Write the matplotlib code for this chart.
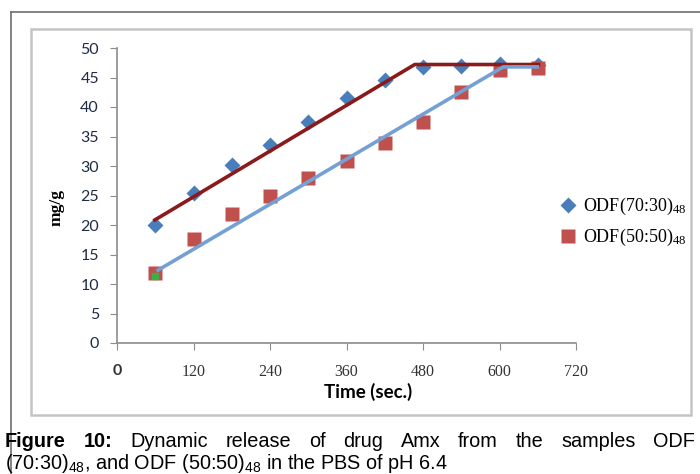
import matplotlib
matplotlib.use('Agg')
import matplotlib.pyplot as plt
from matplotlib.lines import Line2D
from matplotlib.patches import Rectangle

plt.rcParams['mathtext.default'] = 'regular'

# data
time_sec = [60, 120, 180, 240, 300, 360, 420, 480, 540, 600, 660]
odf_70_30 = [20.0, 25.5, 30.2, 33.6, 37.5, 41.5, 44.6, 46.8, 47.0, 47.3, 47.1]
odf_50_50 = [11.9, 17.6, 21.9, 25.0, 28.0, 30.9, 33.9, 37.4, 42.5, 46.3, 46.6]

# hand drawn trend lines
trend_70_30_x = [57, 467, 664]
trend_70_30_y = [20.7, 47.2, 47.2]
trend_50_50_x = [62, 606, 662]
trend_50_50_y = [12.2, 46.8, 46.8]
green_point = (60, 11.4)

x_ticks = [0, 120, 240, 360, 480, 600, 720]
y_ticks = [0, 5, 10, 15, 20, 25, 30, 35, 40, 45, 50]

W, H = 700, 474
fig = plt.figure(figsize=(7, 4.74), dpi=100)


def fx(px):
    return px / W


def fy(py):
    return 1 - py / H


# frames
fig.add_artist(Line2D([fx(11), fx(11)], [fy(12), 0], color='#6e6e6e', lw=1.2))
fig.add_artist(Line2D([fx(11), 1], [fy(12), fy(12)], color='#6e6e6e', lw=1.2))
fig.add_artist(Rectangle((fx(31), fy(415)), fx(691) - fx(31), fy(29) - fy(415),
                         fill=False, edgecolor='#c4c4c4', lw=1.8))

ax = fig.add_axes([fx(117), fy(343), fx(576) - fx(117), fy(48) - fy(343)])
ax.set_xlim(0, 720)
ax.set_ylim(0, 50)

for s in ['top', 'right']:
    ax.spines[s].set_visible(False)
for s in ['left', 'bottom']:
    ax.spines[s].set_color('#8c8c8c')
    ax.spines[s].set_linewidth(1.2)

ax.plot(time_sec, odf_70_30, 'D', color='#4a7ebb', ms=8, mec='none', zorder=2,
        label='ODF(70:30)$_{48}$')
ax.plot(time_sec, odf_50_50, 's', color='#c0504d', ms=10.5, mec='none', zorder=3,
        label='ODF(50:50)$_{48}$')
ax.plot(trend_70_30_x, trend_70_30_y, color='#8b1a1a', lw=2.6, zorder=4,
        solid_capstyle='butt')
ax.plot(trend_50_50_x, trend_50_50_y, color='#74a0d4', lw=2.6, zorder=4,
        solid_capstyle='butt')
ax.plot(*green_point, 's', color='#3cb043', ms=4, zorder=5)

ax.set_xticks(x_ticks)
xl = ax.set_xticklabels([str(v) for v in x_ticks], fontfamily='Liberation Serif',
                        fontsize=11.5, color='#333333')
xl[0].set_fontfamily('Lato')
xl[0].set_fontweight('bold')
ax.set_yticks(y_ticks)
ax.set_yticklabels([str(v) for v in y_ticks], fontfamily='Lato', fontsize=11.5,
                   color='#1f2a44')
ax.tick_params(axis='x', direction='out', length=5, color='#8c8c8c', pad=10)
ax.tick_params(axis='y', direction='out', length=5, color='#8c8c8c', pad=8)

fig.text(fx(57), fy(208), 'mg/g', rotation=90, ha='center', va='center',
         fontfamily='Liberation Serif', fontweight='bold', fontsize=12.5)
fig.text(fx(368), fy(392), 'Time (sec.)', ha='center', va='center',
         fontfamily='Lato', fontweight='bold', fontsize=13.5)

ax.legend(loc='center left', bbox_to_anchor=(fx(541), fy(222)),
          bbox_transform=fig.transFigure, frameon=False,
          prop={'family': 'Liberation Serif', 'size': 13},
          handletextpad=0.2, labelspacing=0.55, handlelength=1.2)

# caption, first line justified
renderer = fig.canvas.get_renderer()
cap_font = {'family': 'Liberation Sans', 'size': 14.3}
line1 = [('Figure', 'bold'), ('10:', 'bold'), ('Dynamic', 'normal'), ('release', 'normal'),
         ('of', 'normal'), ('drug', 'normal'), ('Amx', 'normal'), ('from', 'normal'),
         ('the', 'normal'), ('samples', 'normal'), ('ODF', 'normal')]
left, right = 5, 695
texts = []
widths = []
for word, weight in line1:
    t = fig.text(0, fy(447), word, fontweight=weight, va='baseline', **cap_font)
    texts.append(t)
    widths.append(t.get_window_extent(renderer).width)
gap = (right - left - sum(widths)) / (len(texts) - 1)
x = left
for t, w in zip(texts, widths):
    t.set_x(fx(x))
    x += w + gap

fig.text(fx(left), fy(469), '(70:30)$_{48}$, and ODF (50:50)$_{48}$ in the PBS of pH 6.4',
         va='baseline', **cap_font)

fig.savefig('out.png', dpi=100)
